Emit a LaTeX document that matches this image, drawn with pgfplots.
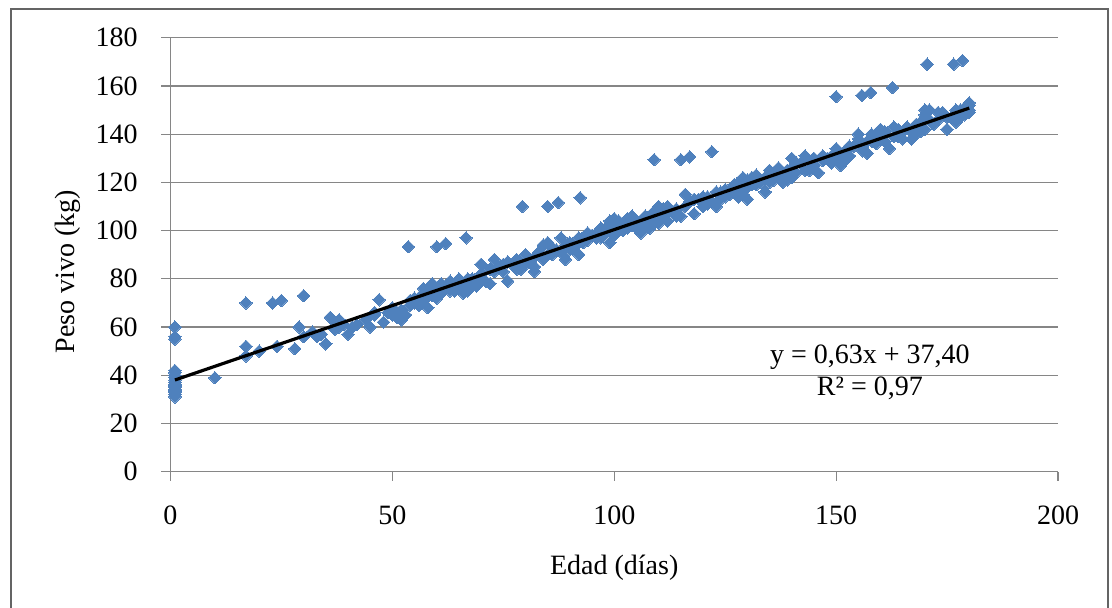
\documentclass[border=0pt]{standalone}
\usepackage{fontspec}
\setmainfont{Liberation Serif}
\usepackage{pgfplots}
\pgfplotsset{compat=1.18}
\usepackage{pgfplotstable}

\definecolor{ptblue}{RGB}{79,129,189}
\definecolor{gridc}{RGB}{134,134,134}
\definecolor{framec}{RGB}{100,100,100}

% edad (dias), peso vivo (kg)
\pgfplotstableread{
x y
1 31
1 32
1 33
1 33.5
1 34
1 35
1 35.5
1 36
1 37
1 38
1 39
1 40
1 41
1 42
1 55
1 56
1 60
10 39
17 70
17 52
17 48
20 50
23 70
24 52
25 71
28 51
29 60
30 73
30 56
32 58
33 56
34 57
35 53
36 64
37 59
37 62
38 63
38 60
39 61
40 57
41 60
42 61
44 63
45 60
46 65
46 66
47 71.3
48 62
49 66
50 68
50 65
51 66
51 64
52 63
52 67
53 65
53.6 93.3
54 69
54 71
55 70
55 72
56 72
56 69
57 74
57 71
57 76
58 68
58 73
58 76
59 73
59 78
60 76
60 93.3
60 72
61 78
61 74
62 94.6
62 77
63 75
63 79
64 77
64 75
65 80
65 76
66 78
66 74
66.6 97
67 75
67 80
68 80
68 77
69 77
69 78
70 82
70 86
70 79
71 79
72 84
72 78
73 88
73 83
74 85
75 83
75 86
76 79
76 87
77 86
78 88
78 84
79 84
79.3 110
80 90
80 86
81 87
82 85
82 83
82 89
83 91
84 88
84 94
85 95
85 110
85 90
86 90
86 93
87 92
87.4 111.6
88 97
88 91
89 88
89 94
90 95
90 92
91 93
92 90
92 97
92.3 113.6
93 97
93 95
94 96
94 99
95 98
96 99
96 97
97 97
97 101
98 101
98 99
99 95
99 104
99 100
100 102
100 98
100 105
101 104
101 100
102 100
102 103
103 105
103 101
104 102
104 106
105 101
105 104
106 99
106 103
107 102
107 106
108 105
108 101
109 108
109 129.4
109 103
110 110
110 103
110 107
111 106
111 109
112 104
112 110
113 108
114 109
114 106
115 106
115 129.4
116 115
116 110
117 112
117 130.6
118 107
118 113
119 113
120 110
120 114
121 114
121 111
122 112
122 132.7
123 110
123 116
124 116
124 113
125 114
125 117
126 117
126 115
127 116
127 119
128 120
128 114
128 117
129 122
129 118
129 115
130 121
130 113
130 118
131 122
131 119
132 119
132 123
133 120
134 116
134 122
135 125
135 120
136 121
136 124
137 122
137 126
138 124
138 120
139 121
139 125
140 126
140 130
140 122
141 124
141 128
142 128
143 131
143 125
144 125
144 129
145 127
145 130
146 124
147 129
147 131
148 130
149 131
149 128
150 134
150 155.5
150 130
151 127
151 132
152 133
152 129
153 131
153 135
154 135
155 138
155 140
155.8 156
156 135
156 133
157 132
157 137
157.8 157.2
158 137
158 140
159 140
159 136
160 138
160 142
161 141
161 137
162 134
162.7 159.3
163 143
163 139
164 139
164 142
165 141
165 138
166 143
167 138
167 141
168 140
168 144
169 145
169 141
170 148
170 142
170 150
170.5 169
171 150
171 146
172 144
173 146
173 149
174 149
175 142
175 147
176 147
176.5 169
177 145
177 150
178 150
178 147
178.5 170.5
179 148
179 151
180 152
180 150
180 149
180 153
}\pesodata

\begin{document}
\begin{tikzpicture}
\path[use as bounding box] (-85.25pt,-68pt) rectangle (470.75pt,235.85pt);
\begin{axis}[
    at={(0,0)}, anchor=south west,
    scale only axis,
    width=443.75pt, height=217pt,
    xmin=0, xmax=200, ymin=0, ymax=180,
    xtick={0,50,100,150,200},
    ytick={0,20,...,180},
    axis lines=left,
    axis line style={-, draw=gridc, line width=0.6pt},
    tick align=outside,
    major tick length=4.5pt,
    tick style={draw=gridc, line width=0.6pt},
    ymajorgrids,
    grid style={draw=gridc, line width=0.6pt},
    clip=false,
    clip marker paths=true,
    font=\fontsize{14}{16}\selectfont,
    /pgf/number format/assume math mode=true,
    yticklabel style={anchor=east, inner sep=0pt, xshift=-11.75pt},
    xticklabel style={anchor=north, inner sep=0pt, yshift=-12.5pt},
    xlabel={Edad (días)},
    ylabel={Peso vivo (kg)},
    every axis x label/.style={at={(axis description cs:0.5,-0.2212)}, anchor=center},
    every axis y label/.style={at={(axis description cs:-0.1155,0.461)}, rotate=90, anchor=center},
]
\addplot[only marks, mark=square*, mark size=2.2pt,
    mark options={fill=ptblue, draw=ptblue, rotate=45, line width=0pt}]
    table[x=x, y=y] {\pesodata};
\addplot[black, line width=1.6pt] coordinates {(1,38.03) (180,150.80)};
\node[align=center, font=\fontsize{14}{16}\selectfont] at (axis cs:157.6,41.06)
    {y = 0,63x + 37,40\\R² = 0,97};
\end{axis}
\draw[framec, line width=1.2pt] (-79.75pt,-80pt) rectangle (468.75pt,231.35pt);
\end{tikzpicture}
\end{document}
